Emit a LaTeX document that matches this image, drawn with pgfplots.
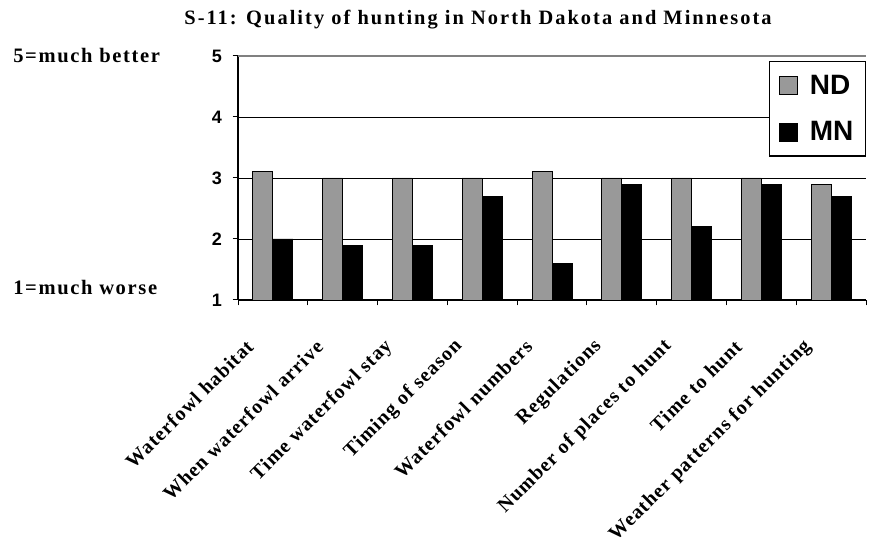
\documentclass[border=0pt]{standalone}
\usepackage{fontspec}
\setmainfont{Liberation Serif}
\newfontfamily\arial{Liberation Sans}
\usepackage{pgfplots}
\pgfplotsset{compat=1.18}
\definecolor{ndgray}{RGB}{153,153,153}
\begin{document}
\begin{tikzpicture}
\path[use as bounding box] (0,0) rectangle (654.75pt,416.25pt);
\begin{axis}[
  at={(178.5pt,191.25pt)}, anchor=south west,
  width=471pt, height=183pt, scale only axis,
  xmin=0.5, xmax=9.5, ymin=1, ymax=5,
  axis x line*=bottom, axis y line*=left,
  axis line style={line width=0.9pt, -},
  ybar=0pt, bar width=15pt,
  xtick={1,...,9},
  xticklabels={Waterfowl habitat, When waterfowl arrive, Time waterfowl stay, Timing of season, Waterfowl numbers, Regulations, Number of places to hunt, Time to hunt, Weather patterns for hunting},
  major x tick style={draw=none},
  minor xtick={0.5,1.5,...,9.5},
  minor x tick style={black, line width=0.75pt},
  tick align=outside,
  minor tick length=4pt, major tick length=4pt,
  ytick={1,2,3,4},
  extra y ticks={5},
  extra y tick style={grid style={gray, line width=1pt}},
  ymajorgrids, grid style={black, line width=0.6pt},
  y tick style={black, line width=0.75pt},
  yticklabel style={font=\arial\bfseries\fontsize{13.5}{15}\selectfont, xshift=-4.5pt},
  /pgf/number format/assume math mode=true,
  xticklabel style={font=\bfseries\fontsize{15}{17}\selectfont\addfontfeatures{LetterSpace=5}, rotate=45, anchor=east, xshift=-29pt, yshift=-8pt},
  legend style={at={(1,0.98)}, anchor=north east, draw=black, line width=1pt,
    font=\arial\bfseries\fontsize{21}{25}\selectfont, inner xsep=7pt, inner ysep=8pt,
    row sep=15pt, column sep=7pt, cells={anchor=west}},
  legend image code/.code={\draw[#1, line width=0.5pt] (0pt,-6.75pt) rectangle (13.5pt,6.75pt);},
  clip=false,
]
\addplot[fill=ndgray, draw=black, line width=0.6pt] coordinates {(1,3.1) (2,3.0) (3,3.0) (4,3.0) (5,3.1) (6,3.0) (7,3.0) (8,3.0) (9,2.9)};
\addplot[fill=black, draw=black, line width=0.6pt] coordinates {(1,2.0) (2,1.9) (3,1.9) (4,2.7) (5,1.6) (6,2.9) (7,2.2) (8,2.9) (9,2.7)};
\legend{ND, MN}
\end{axis}
\node[font=\bfseries\fontsize{15.3}{17}\selectfont\addfontfeatures{LetterSpace=10}] at (358.5pt,401.25pt) {S-11: Quality of hunting in North Dakota and Minnesota};
\node[anchor=west, font=\bfseries\fontsize{15.4}{17}\selectfont\addfontfeatures{LetterSpace=8}, inner sep=0pt] at (9.75pt,374.25pt) {5=much better};
\node[anchor=west, font=\bfseries\fontsize{15.4}{17}\selectfont\addfontfeatures{LetterSpace=8}, inner sep=0pt] at (9.75pt,200.25pt) {1=much worse};
\end{tikzpicture}
\end{document}
